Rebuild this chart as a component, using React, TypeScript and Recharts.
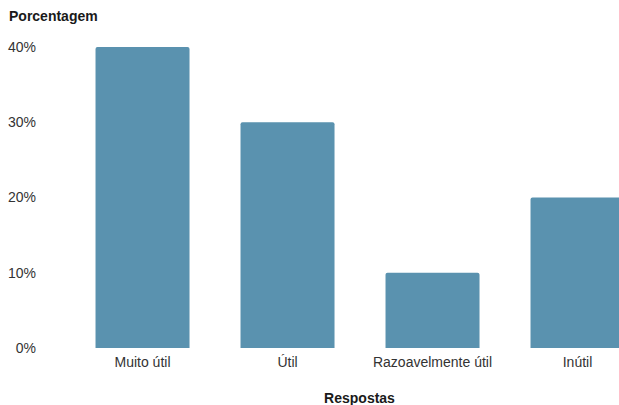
import { BarChart, Bar, XAxis, YAxis } from "recharts";

const categories = ["Muito útil", "Útil", "Razoavelmente útil", "Inútil"];
const percentages = [40, 30, 10, 20];
const yTicks = [0, 10, 20, 30, 40];

const data = categories.map((name, i) => ({ name, value: percentages[i] }));

const font = "'Liberation Sans', Arial, sans-serif";

export default function App() {
  return (
    <div
      style={{
        position: "absolute",
        left: 0,
        top: 0,
        width: 619,
        height: 405,
        overflow: "hidden",
        background: "#fff",
        fontFamily: font,
      }}
    >
      <div
        style={{
          position: "absolute",
          left: 9,
          top: 8,
          fontSize: 14,
          fontWeight: 700,
          color: "#1a1a1a",
        }}
      >
        Porcentagem
      </div>
      <BarChart
        width={650}
        height={405}
        data={data}
        margin={{ top: 47, right: 0, bottom: 7, left: 10 }}
        barCategoryGap="17.6%"
      >
        <XAxis
          dataKey="name"
          axisLine={false}
          tickLine={false}
          tickSize={0}
          tickMargin={9}
          height={50}
          interval={0}
          tick={{ fill: "#333", fontSize: 14, fontFamily: font }}
        />
        <YAxis
          domain={[0, 40]}
          ticks={yTicks}
          axisLine={false}
          tickLine={false}
          tickSize={0}
          tickMargin={34}
          width={60}
          tickFormatter={(v) => `${v}%`}
          tick={{ fill: "#333", fontSize: 14, fontFamily: font }}
        />
        <Bar dataKey="value" fill="#5a92af" radius={[2, 2, 0, 0]} isAnimationActive={false} />
      </BarChart>
      <div
        style={{
          position: "absolute",
          left: 0,
          width: 719,
          top: 390,
          textAlign: "center",
          fontSize: 14,
          fontWeight: 700,
          color: "#1a1a1a",
        }}
      >
        Respostas
      </div>
    </div>
  );
}
